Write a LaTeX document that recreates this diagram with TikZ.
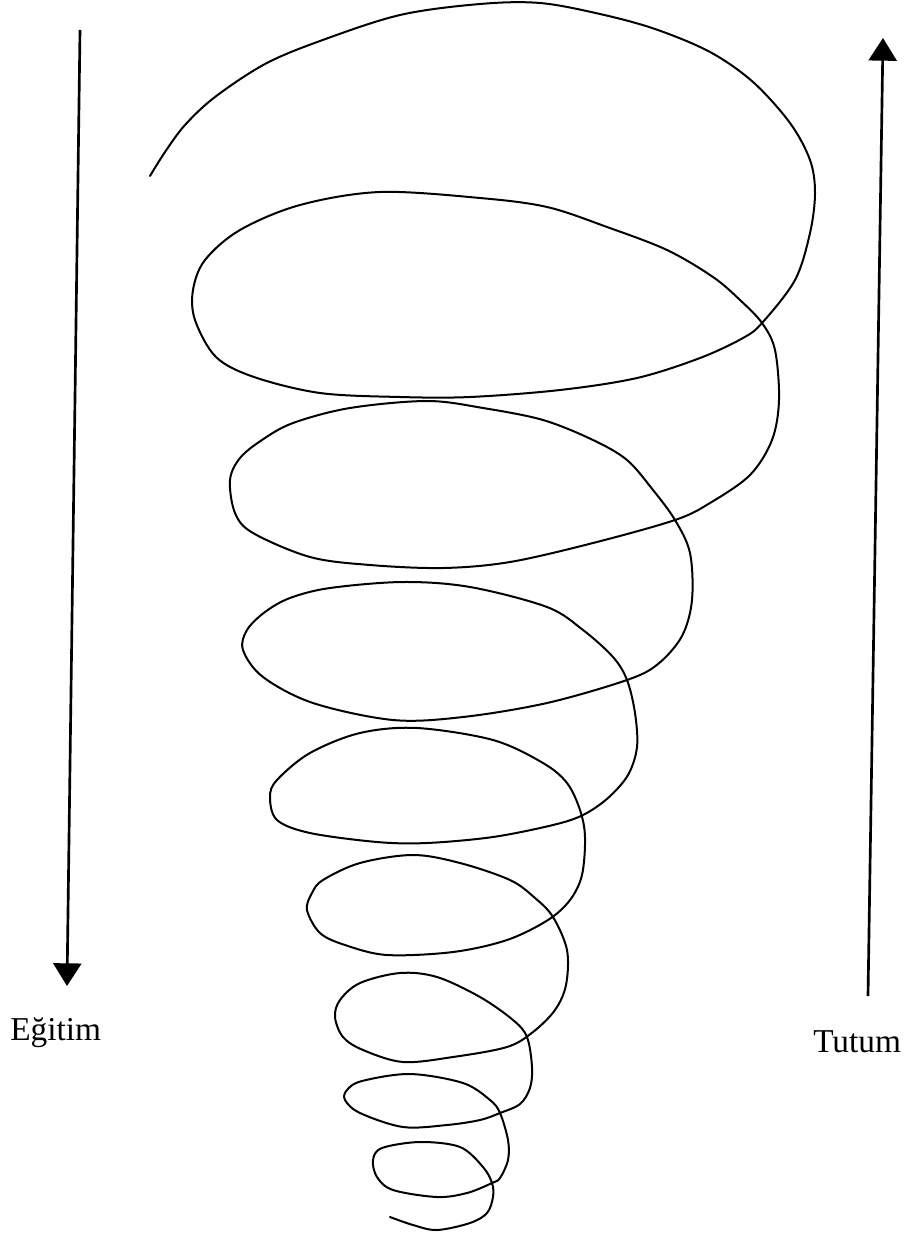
\documentclass[tikz,border=0pt]{standalone}
\usepackage{fontspec}
\setmainfont{Liberation Serif}
\usetikzlibrary{arrows.meta}
\begin{document}
\begin{tikzpicture}[x=0.75pt,y=-0.75pt,
  spiralline/.style={line width=1.5pt,line join=round,line cap=round},
  axisarrow/.style={line width=2pt,-{Triangle[length=17pt,width=21pt]}},
  lbl/.style={inner sep=0pt,anchor=base west,font=\fontsize{25}{30}\selectfont}]
\useasboundingbox (0,0) rectangle (916,1238);
% arrows
\coordinate (lt) at (80,30);
\coordinate (lb) at (67,986);
\coordinate (rb) at (868,996);
\coordinate (rt) at (883,38);
\draw[axisarrow] (lt) -- (lb);
\draw[axisarrow] (rb) -- (rt);
% labels
\node[lbl] (egitim) at (10,1040) {Eğitim};
\node[lbl] (tutum) at (813,1052) {Tutum};
% spiral
\draw[spiralline] plot[smooth,tension=0.55] coordinates {
(150,176) (165,152) (185,125) (215,97) (265,64) (320,41) (400,15) (480,4)
(540,3) (600,14) (655,29) (710,52) (753,82) (790,123) (810,160) (815,193)
(810,233) (795,280) (762,323) (743,338) (700,358) (637,378)
(560,390) (470,397) (400,397) (320,393) (254,377) (216,357) (195,320)
(193,290) (205,260) (240,230) (300,205) (380,192) (480,198) (547,207)
(607,227) (667,250) (713,277) (740,300) (762,323) (775,350) (779,400)
(772,440) (750,475) (710,503) (675,520) (593,543) (510,562) (443,568)
(370,565) (310,557) (253,533) (235,513) (230,480) (240,458) (262,440)
(293,423) (350,408) (427,401) (483,408) (543,420) (593,440) (627,460)
(653,490) (675,520) (690,553) (692,600) (682,636) (658,664)
(627,680) (547,703) (463,717) (393,720) (313,703) (263,677) (243,650)
(247,630) (265,612) (290,598) (330,588) (403,582) (470,587) (547,607)
(583,630) (613,657) (627,680) (635,713) (637,747) (628,775) (608,798)
(583,815) (553,825) (493,837) (427,843) (377,842) (310,833)
(277,820) (270,797) (277,780) (310,753) (360,733) (417,728) (493,740)
(543,763) (567,783) (580,810) (585,837) (582,875) (570,900) (548,920)
(507,940) (453,952) (387,955) (345,945) (320,933) (307,910) (312,893)
(323,880) (360,863) (413,855) (460,863) (510,880) (535,898) (553,917)
(567,950) (566,985) (555,1010) (533,1032) (507,1047) (453,1057) (403,1062)
(363,1050) (343,1037) (335,1017) (340,1000) (360,983) (400,973) (437,977)
(480,997) (513,1020) (527,1037) (532,1067) (530,1088) (520,1104) (500,1113)
(480,1120) (447,1125) (403,1127) (360,1113) (345,1100) (347,1090) (362,1081)
(410,1074) (463,1083) (490,1100) (500,1113) (508,1140) (508,1160) (500,1178)
(492,1183) (467,1193) (437,1197) (393,1190) (377,1177) (373,1160) (382,1148)
(420,1142) (460,1147) (483,1167) (492,1183) (493,1197) (487,1213) (470,1223)
(437,1230) (413,1225) (390,1217)};
\end{tikzpicture}
\end{document}
